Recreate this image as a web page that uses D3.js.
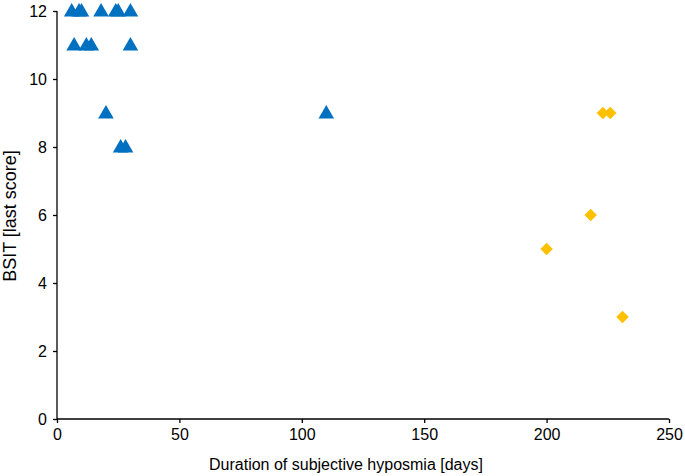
<!DOCTYPE html>
<html><head><meta charset="utf-8">
<script src="https://cdn.jsdelivr.net/npm/d3@7"></script>
<style>body{margin:0;background:#fff;} text{font-family:"Liberation Sans",Arial,sans-serif;}</style>
</head><body><svg id="c" width="685" height="476"></svg>
<script>
const triDays   = [6, 9, 10, 18, 24, 25, 30, 7, 12, 14, 30, 20, 26, 28, 110];
const triScores = [12,12,12, 12, 12, 12, 12,11, 11, 11, 11,  9,  8,  8,   9];
const diaDays   = [223, 226, 218, 200, 231];
const diaScores = [9, 9, 6, 5, 3];
const xTicks = [0, 50, 100, 150, 200, 250];
const yTicks = [0, 2, 4, 6, 8, 10, 12];
const xTitle = "Duration of subjective hyposmia [days]";
const yTitle = "BSIT [last score]";

const svg = d3.select("#c");
const x = d3.scaleLinear().domain([0,250]).range([57, 669]);
const y = d3.scaleLinear().domain([0,12]).range([419, 11]);

const xa = svg.append("g").attr("transform",`translate(0,${y(0)})`)
  .call(d3.axisBottom(x).tickValues(xTicks).tickSize(4).tickPadding(6));
const ya = svg.append("g").attr("transform",`translate(${x(0)},0)`)
  .call(d3.axisLeft(y).tickValues(yTicks).tickSize(4).tickPadding(6));
[xa, ya].forEach(a => {
  a.selectAll("path,line").attr("stroke","#000").attr("stroke-width",1.3);
  a.selectAll("text").attr("font-size",16).attr("fill","#000")
    .style("font-family","'Liberation Sans',Arial,sans-serif");
});
xa.select(".domain").attr("d", `M${x(0)},0H${x(250)}`);
ya.select(".domain").attr("d", `M0,${y(0)}V${y(12)}`);

const tri = d3.symbol().type(d3.symbolTriangle).size(105);
svg.append("g").selectAll("path").data(triDays.map((d,i)=>[d,triScores[i]]))
  .join("path").attr("d", tri)
  .attr("transform", d => `translate(${x(d[0])},${y(d[1])+1})`)
  .attr("fill","#0070C0");

const dia = d3.symbol().type(d3.symbolSquare).size(78);
svg.append("g").selectAll("path").data(diaDays.map((d,i)=>[d,diaScores[i]]))
  .join("path").attr("d", dia)
  .attr("transform", d => `translate(${x(d[0])},${y(d[1])}) rotate(45)`)
  .attr("fill","#FFC000");

svg.append("text").attr("x", 346).attr("y", 470)
  .attr("text-anchor","middle").attr("font-size",16).text(xTitle);
svg.append("text").attr("transform",`translate(16,216) rotate(-90)`)
  .attr("text-anchor","middle").attr("font-size",18).text(yTitle);
</script></body></html>
